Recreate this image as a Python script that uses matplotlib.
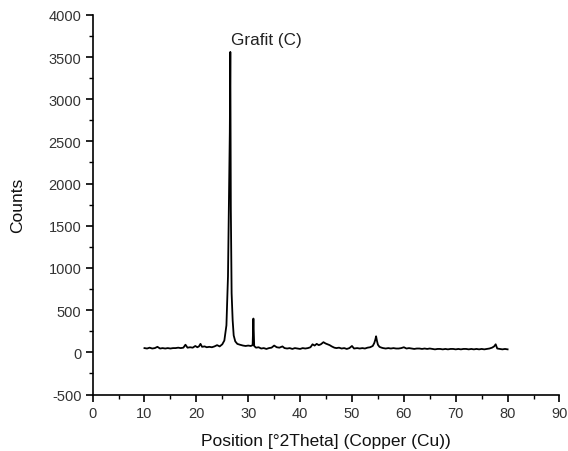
import matplotlib
matplotlib.use("Agg")
import matplotlib.pyplot as plt
from matplotlib.ticker import MultipleLocator

plt.rcParams["font.family"] = ["Liberation Sans", "DejaVu Sans"]
plt.rcParams["axes.unicode_minus"] = False

# XRD scan (2theta in degrees, counts)
two_theta = [
    10.0, 10.5, 11.0, 11.5, 12.0, 12.5, 13.0, 13.5, 14.0, 14.5, 15.0, 15.5,
    16.0, 16.5, 17.0, 17.5, 17.9, 18.3, 18.8, 19.3, 19.8, 20.2, 20.5, 20.8,
    21.1, 21.6, 22.0, 22.5, 23.0, 23.5, 24.0, 24.5, 25.0, 25.4, 25.8, 26.1,
    26.3, 26.45, 26.55, 26.65, 26.8, 27.0, 27.2, 27.5, 27.9, 28.4, 29.0, 29.5,
    30.0, 30.5, 30.85, 31.0, 31.15, 31.5, 32.0, 32.5, 33.0, 33.5, 34.0, 34.5,
    35.0, 35.5, 36.0, 36.6, 37.0, 37.5, 38.0, 38.5, 39.0, 39.5, 40.0, 40.5,
    41.0, 41.5, 42.0, 42.4, 42.8, 43.2, 43.6, 44.0, 44.5, 44.9, 45.3, 45.7,
    46.1, 46.6, 47.0, 47.5, 48.0, 48.5, 49.0, 49.5, 50.0, 50.4, 51.0, 51.5,
    52.0, 52.5, 53.0, 53.5, 54.0, 54.3, 54.5, 54.65, 54.8, 55.0, 55.3, 55.7,
    56.0, 56.5, 57.0, 57.5, 58.0, 58.5, 59.0, 59.5, 60.0, 60.5, 61.0, 61.5,
    62.0, 62.5, 63.0, 63.5, 64.0, 64.5, 65.0, 65.5, 66.0, 66.5, 67.0, 67.5,
    68.0, 68.5, 69.0, 69.5, 70.0, 70.5, 71.0, 71.5, 72.0, 72.5, 73.0, 73.5,
    74.0, 74.5, 75.0, 75.5, 76.0, 76.5, 77.0, 77.4, 77.7, 78.0, 78.5, 79.0,
    79.5, 80.0,
]
counts = [
    50, 45, 55, 45, 50, 65, 45, 50, 45, 50, 45, 50,
    50, 55, 50, 55, 90, 55, 60, 55, 75, 60, 70, 100,
    65, 70, 60, 65, 60, 70, 85, 70, 95, 140, 320, 900,
    1850, 2600, 3560, 1700, 700, 380, 200, 130, 100, 90, 80, 75,
    80, 75, 85, 400, 75, 55, 60, 45, 50, 40, 50, 55,
    80, 60, 55, 70, 50, 45, 50, 40, 50, 45, 40, 50,
    45, 50, 60, 95, 80, 100, 85, 95, 120, 105, 95, 85,
    70, 55, 50, 55, 45, 50, 40, 50, 75, 45, 50, 45,
    50, 45, 55, 60, 75, 110, 150, 190, 140, 90, 65, 55,
    50, 45, 50, 45, 50, 45, 45, 50, 60, 45, 50, 45,
    40, 45, 45, 40, 45, 40, 45, 40, 35, 40, 40, 35,
    40, 35, 40, 40, 35, 40, 35, 40, 40, 35, 40, 35,
    40, 35, 40, 35, 40, 45, 55, 70, 95, 45, 40, 35,
    40, 35,
]

peak_label = "Grafit (C)"
peak_pos = (26.6, 3620)

fig = plt.figure(figsize=(5.68, 4.52), dpi=100)
ax = fig.add_axes([0.163, 0.125, 0.822, 0.840])

ax.plot(two_theta, counts, color="black", linewidth=1.3)

ax.text(peak_pos[0], peak_pos[1], peak_label, fontsize=12.3, color="#222222",
        ha="left", va="bottom")

ax.set_xlim(0, 90)
ax.set_ylim(-500, 4000)
ax.xaxis.set_major_locator(MultipleLocator(10))
ax.xaxis.set_minor_locator(MultipleLocator(5))
ax.yaxis.set_major_locator(MultipleLocator(500))
ax.yaxis.set_minor_locator(MultipleLocator(250))

for side in ("top", "right"):
    ax.spines[side].set_visible(False)
for side in ("left", "bottom"):
    ax.spines[side].set_linewidth(1.2)

ax.tick_params(which="major", direction="out", length=5, width=1.2,
               labelsize=10.5, labelcolor="#333333", pad=3)
ax.tick_params(which="minor", direction="out", length=3, width=1.0)

ax.set_xlabel("Position [°2Theta] (Copper (Cu))", fontsize=12.5, color="#111111",
              labelpad=10)
ax.set_ylabel("Counts", fontsize=12.5, color="#111111", labelpad=17)

fig.savefig("out.png", dpi=100)
